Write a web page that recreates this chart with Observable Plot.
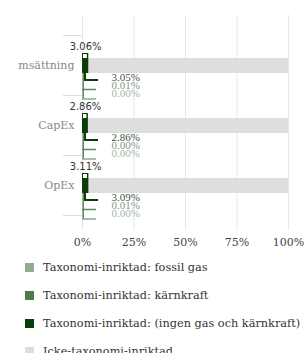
<!DOCTYPE html>
<html><head><meta charset="utf-8">
<script src="https://cdn.jsdelivr.net/npm/d3@7"></script>
<script src="https://cdn.jsdelivr.net/npm/@observablehq/plot@0.6"></script>
<style>
body{margin:0;background:#fff;}
#legend{font-family:"DejaVu Serif";font-size:11.3px;color:#333;}
.row{height:27.8px;display:flex;align-items:center;padding-left:25px;white-space:nowrap;}
.sw{width:9px;height:9px;margin-right:9px;flex:none;}
</style></head><body><div id="chart"></div><div id="legend"></div>
<script>
const categories = ["msättning", "CapEx", "OpEx"];
const totalAligned = [0.0306, 0.0286, 0.0311];
const ingenGasKarn = [0.0305, 0.0286, 0.0309];
const karnkraft = [0.0001, 0.0000, 0.0001];
const fossilGas = [0.0000, 0.0000, 0.0000];
const icke = [0.9694, 0.9714, 0.9689];
const xTicks = [0, 0.25, 0.5, 0.75, 1];
const seriesNames = ["Taxonomi-inriktad: fossil gas", "Taxonomi-inriktad: kärnkraft", "Taxonomi-inriktad: (ingen gas och kärnkraft)", "Icke-taxonomi-inriktad"];
const seriesColors = ["#8fae8f", "#4c7c4c", "#0b3d0b", "#dedede"];

const rows = categories.map((c, i) => ({cat: c, total: totalAligned[i], ingen: ingenGasKarn[i], karn: karnkraft[i], fossil: fossilGas[i], icke: icke[i]}));
const fmt = d3.format(".2%");
const dark = "#0b3d0b", mid = "#5b875b", light = "#8aaa8a";
const reach = 0.068;
const serif = "DejaVu Serif";

const chart = Plot.plot({
  width: 305, height: 254,
  marginLeft: 82, marginRight: 17, marginTop: 15, marginBottom: 24,
  x: {domain: [0, 1]},
  y: {domain: categories, range: [35, 215], padding: 0},
  style: {background: "#fff"},
  marks: [
    Plot.gridX(xTicks, {stroke: "#e6e6e6", strokeOpacity: 1}),
    Plot.barX(rows, {y: "cat", x1: "total", x2: d => d.total + d.icke, fill: "#dedede", insetTop: 23, insetBottom: 22}),
    Plot.barX(rows, {y: "cat", x1: 0, x2: "total", fill: dark, insetTop: 18, insetBottom: 22}),
    Plot.barX(rows, {y: "cat", x1: 0, x2: "total", fill: "#fff", insetTop: 19, insetBottom: 37, insetLeft: 1, insetRight: 1.5}),
    Plot.ruleX(rows, {x: 0, y1: "cat", y2: "cat", dx: 0.75, stroke: mid, strokeWidth: 1.5, insetTop: 38, insetBottom: -3.5}),
    Plot.ruleX(rows, {x: 0, y1: "cat", y2: "cat", dx: 2.5, stroke: dark, strokeWidth: 2, insetTop: 38, insetBottom: 15.5}),
    Plot.ruleY(rows, {y: "cat", x1: 0, x2: reach, dx: 2, dy: 14.5, stroke: dark, strokeWidth: 2}),
    Plot.ruleY(rows, {y: "cat", x1: 0, x2: reach, dy: 24, stroke: mid, strokeWidth: 1.5}),
    Plot.ruleY(rows, {y: "cat", x1: 0, x2: reach, dy: 33.5, stroke: light, strokeWidth: 1.5}),
    Plot.text(rows, {y: "cat", x: d => d.total / 2, text: d => fmt(d.total), dy: -18.5, fontFamily: "DejaVu Sans", fontSize: 10, fill: "#333"}),
    Plot.text(rows, {y: "cat", x: 0, dx: 29, dy: 12, text: d => fmt(d.ingen), textAnchor: "start", fontFamily: "Liberation Serif", fontSize: 11, fill: "#3a5a3a"}),
    Plot.text(rows, {y: "cat", x: 0, dx: 29, dy: 20, text: d => fmt(d.karn), textAnchor: "start", fontFamily: "Liberation Serif", fontSize: 11, fill: "#7f9a7f"}),
    Plot.text(rows, {y: "cat", x: 0, dx: 29, dy: 28, text: d => fmt(d.fossil), textAnchor: "start", fontFamily: "Liberation Serif", fontSize: 11, fill: "#a5b8a5"}),
    Plot.axisX({ticks: xTicks, tickFormat: d3.format(".0%"), tickSize: 0, tickPadding: 7.5, label: null, fontFamily: serif, fontSize: 11, color: "#444"}),
    Plot.axisY({tickSize: 0, tickPadding: 8, label: null, fontFamily: serif, fontSize: 11, color: "#888"}),
    Plot.axisY({tickSize: 19, tickFormat: () => "", dy: -30, label: null, color: "#dcdcdc"}),
    Plot.axisY({tickSize: 19, tickFormat: () => "", dy: 30, label: null, color: "#dcdcdc"})
  ]
});
document.getElementById("chart").append(chart);

const legend = document.getElementById("legend");
seriesNames.forEach((n, i) => {
  const r = document.createElement("div");
  r.className = "row";
  const s = document.createElement("span");
  s.className = "sw";
  s.style.background = seriesColors[i];
  const t = document.createElement("span");
  t.textContent = n;
  r.append(s, t);
  legend.append(r);
});
</script></body></html>
